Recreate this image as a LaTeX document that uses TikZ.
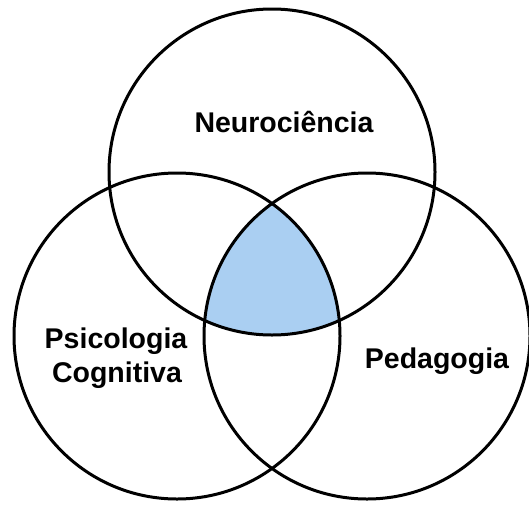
\documentclass[tikz,border=0pt]{standalone}
\usepackage{fontspec}
\setmainfont{Liberation Sans}
\definecolor{capblue}{RGB}{170,207,242}
\tikzset{
  ring/.style={line width=3pt, draw=black},
  tag/.style={font=\fontsize{28.5}{34}\selectfont\bfseries, anchor=base, inner sep=0pt}
}
\begin{document}
\begin{tikzpicture}[x=1pt,y=-1pt]
  \useasboundingbox (0,0) rectangle (529,506);
  \def\rr{163}
  \coordinate (neuro) at (272,172);
  \coordinate (psico) at (177,336);
  \coordinate (peda)  at (367,336);
  % common part of the three fields
  \begin{scope}
    \clip (neuro) circle (\rr);
    \clip (psico) circle (\rr);
    \fill[capblue] (peda) circle (\rr);
  \end{scope}
  % circles
  \foreach \cc in {neuro,psico,peda}
   {
    \draw[ring] (\cc) circle (\rr);
   }
  % labels
  \node[tag] (tneuro) at (284,132) {Neurociência};
  \node[tag] (tpsico) at (116,348) {Psicologia};
  \node[tag] (tcogn)  at (117,382) {Cognitiva};
  \node[tag] (tpeda)  at (437,368) {Pedagogia};
\end{tikzpicture}
\end{document}
